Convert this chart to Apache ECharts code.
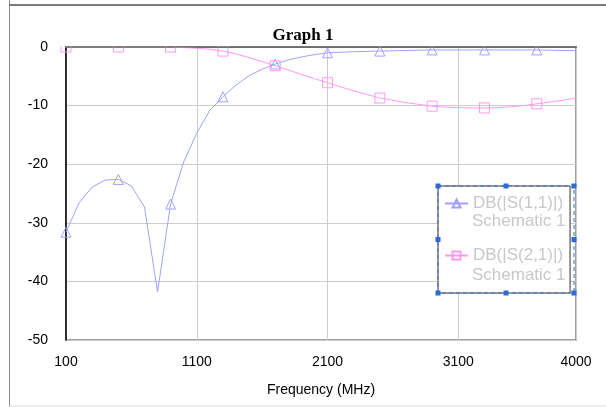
<!DOCTYPE html>
<html>
<head>
<meta charset="utf-8">
<script src="https://cdn.jsdelivr.net/npm/echarts@6/dist/echarts.min.js"></script>
<style>
  html, body { margin: 0; padding: 0; background: #fff; }
  #chart { width: 606px; height: 407px; }
</style>
</head>
<body>
<div id="chart"></div>
<script>
// frequency points, MHz (100 MHz step)
var freqs = [100, 200, 300, 400, 500, 600, 700, 800, 900, 1000,
  1100, 1200, 1300, 1400, 1500, 1600, 1700, 1800, 1900, 2000,
  2100, 2200, 2300, 2400, 2500, 2600, 2700, 2800, 2900, 3000,
  3100, 3200, 3300, 3400, 3500, 3600, 3700, 3800, 3900, 4000];

// DB(|S(1,1)|)
var s11 = [-31.6, -26.6, -23.9, -22.7, -22.6, -23.7, -27.3, -41.8, -26.8, -19.6,
  -14.7, -10.8, -8.5, -6.5, -4.9, -3.8, -2.9, -2.2, -1.7, -1.3,
  -1.0, -0.9, -0.8, -0.75, -0.7, -0.65, -0.6, -0.55, -0.5, -0.5,
  -0.5, -0.5, -0.5, -0.5, -0.5, -0.5, -0.5, -0.55, -0.6, -0.6];

// DB(|S(2,1)|)
var s21 = [0, 0, 0, 0, 0, 0, 0, 0, 0, -0.1,
  -0.2, -0.4, -0.7, -1.2, -1.8, -2.5, -3.2, -3.9, -4.7, -5.4,
  -6.1, -6.8, -7.5, -8.1, -8.7, -9.1, -9.5, -9.8, -10.1, -10.25,
  -10.35, -10.4, -10.4, -10.35, -10.2, -10.0, -9.7, -9.4, -9.1, -8.7];

var seriesNames = ['DB(|S(1,1)|)', 'DB(|S(2,1)|)'];
var sourceLabel = 'Schematic 1';

var blue = '#a0a0ff';
var pink = '#ff99f0';

function pairs(vals) {
  return freqs.map(function (f, i) { return [f, vals[i]]; });
}

// markers only every 4th point
function markerSize(size) {
  return function (v, p) { return p.dataIndex % 4 === 0 ? size : 0; };
}

var chart = echarts.init(document.getElementById('chart'));

var handle = function (x, y) {
  return { type: 'rect', shape: { x: x - 2.5, y: y - 2.5, width: 5, height: 5 },
    style: { fill: '#2f6bd0' }, z: 110 };
};

chart.setOption({
  animation: false,
  title: {
    text: 'Graph 1',
    left: 'center',
    top: 22,
    z: 200,
    textStyle: { fontFamily: 'Liberation Serif', fontSize: 17, fontWeight: 'bold', color: '#000' }
  },
  grid: {
    left: 66, top: 47, right: 30, bottom: 67,
    show: true, borderColor: '#808080', borderWidth: 1.5
  },
  xAxis: {
    type: 'value',
    min: 100, max: 4000, interval: 1000,
    name: 'Frequency (MHz)',
    nameLocation: 'middle',
    nameGap: 43,
    nameTextStyle: { fontFamily: 'Liberation Sans', fontSize: 14, color: '#000' },
    axisLine: { lineStyle: { color: '#000', width: 1.5 } },
    axisTick: { show: false },
    axisLabel: { fontFamily: 'Liberation Sans', fontSize: 14, color: '#000', margin: 15,
      showMinLabel: true, showMaxLabel: true,
      formatter: function (v) { return String(v); } },
    splitLine: { show: true, lineStyle: { color: '#cccccc', width: 1 } }
  },
  yAxis: {
    type: 'value',
    min: -50, max: 0, interval: 10,
    axisLine: { show: true, lineStyle: { color: '#000', width: 1.5 } },
    axisTick: { show: false },
    axisLabel: { fontFamily: 'Liberation Sans', fontSize: 14, color: '#000', margin: 18 },
    splitLine: { show: true, lineStyle: { color: '#cccccc', width: 1 } }
  },
  legend: {
    orient: 'vertical',
    left: 438, top: 186,
    padding: [8, 7, 28, 6],
    itemGap: 33,
    itemWidth: 23, itemHeight: 10,
    backgroundColor: '#fff',
    borderColor: '#333', borderWidth: 1,
    textStyle: { fontFamily: 'Liberation Sans', fontSize: 17, color: '#c8c8c8', lineHeight: 19 },
    data: seriesNames
  },
  graphic: [
    { type: 'line', shape: { x1: 9.5, y1: 0, x2: 9.5, y2: 407 }, style: { stroke: '#8a8a8a', lineWidth: 1 } },
    { type: 'line', shape: { x1: 9, y1: 5, x2: 606, y2: 5 }, style: { stroke: '#7a7a7a', lineWidth: 2 } },
    { type: 'line', shape: { x1: 9, y1: 406, x2: 606, y2: 406 }, style: { stroke: '#dddddd', lineWidth: 1 } },
    // markers stop at the plot's top edge
    { type: 'rect', shape: { x: 58, y: 6.5, width: 530, height: 39.8 }, z: 100,
      style: { fill: '#fff' } },
    { type: 'line', shape: { x1: 65.3, y1: 47, x2: 576.7, y2: 47 }, z: 101,
      style: { stroke: '#808080', lineWidth: 1.5 } },
    { type: 'text', x: 472, y: 213, z: 110,
      style: { text: sourceLabel, fontFamily: 'Liberation Sans', fontSize: 17, fill: '#c8c8c8' } },
    { type: 'text', x: 472, y: 267, z: 110,
      style: { text: sourceLabel, fontFamily: 'Liberation Sans', fontSize: 17, fill: '#c8c8c8' } },
    { type: 'rect', shape: { x: 438, y: 186, width: 136, height: 107 }, z: 105,
      style: { fill: null, stroke: '#3a6fd0', lineWidth: 1, lineDash: [4, 3] } },
    handle(438, 186), handle(506, 186), handle(574, 186),
    handle(438, 239.5), handle(574, 239.5),
    handle(438, 293), handle(506, 293), handle(574, 293)
  ],
  series: [
    {
      name: seriesNames[0],
      type: 'line',
      data: pairs(s11),
      symbol: 'triangle',
      symbolSize: markerSize(10),
      lineStyle: { color: blue, width: 1 },
      itemStyle: { color: 'rgba(255,255,255,0)', borderColor: blue, borderWidth: 1 },
      emphasis: { disabled: true }
    },
    {
      name: seriesNames[1],
      type: 'line',
      data: pairs(s21),
      symbol: 'rect',
      symbolSize: markerSize(10),
      lineStyle: { color: pink, width: 1 },
      itemStyle: { color: 'rgba(255,255,255,0)', borderColor: pink, borderWidth: 1 },
      emphasis: { disabled: true }
    }
  ]
});
</script>
</body>
</html>
